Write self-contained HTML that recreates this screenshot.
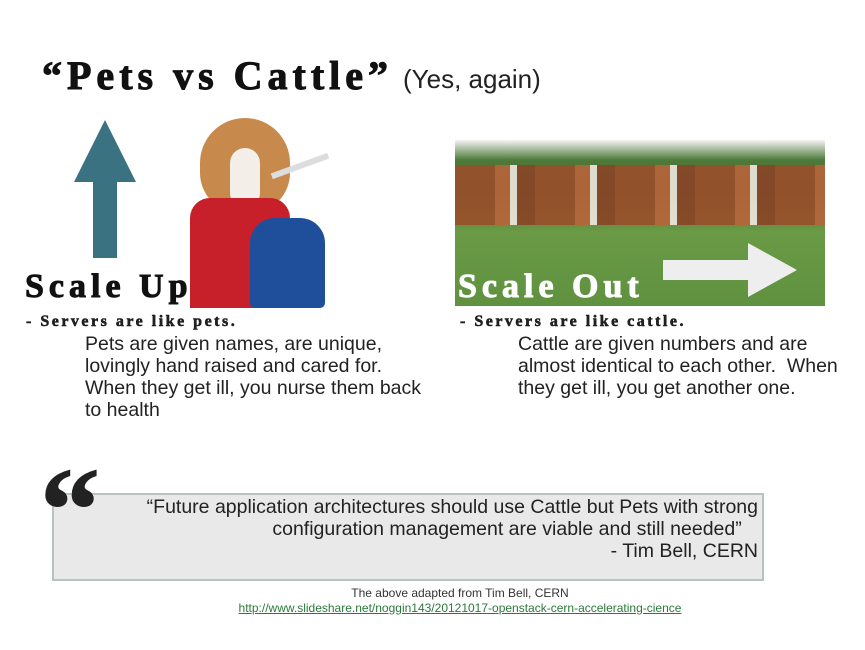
<!DOCTYPE html>
<html><head><meta charset="utf-8">
<style>
body{margin:0;width:865px;height:650px;background:#fff;position:relative;overflow:hidden;font-family:"Liberation Sans",sans-serif;color:#222}
.a{position:absolute}
.serif{font-family:"Liberation Serif",serif;font-weight:bold;-webkit-text-stroke:1px currentColor}
.body{font-size:19.5px;line-height:22px;color:#222}
</style></head><body>
<div class="a serif" style="left:42px;top:52px;font-size:40px;letter-spacing:5px;color:#111">“Pets vs Cattle”</div>
<div class="a" style="left:403px;top:64px;font-size:26px">(Yes, again)</div>

<svg class="a" style="left:70px;top:120px" width="70" height="140">
<polygon points="35,0 66,62 47,62 47,138 23,138 23,62 4,62" fill="#3b7282"/></svg>

<div class="a" style="left:180px;top:118px;width:150px;height:190px">
 <div class="a" style="left:20px;top:0;width:90px;height:95px;background:#c88a4c;border-radius:45px 45px 40px 40px"></div>
 <div class="a" style="left:50px;top:30px;width:30px;height:60px;background:#f3efe8;border-radius:15px"></div>
 <div class="a" style="left:10px;top:80px;width:100px;height:110px;background:#c8202a;border-radius:20px 20px 0 0"></div>
 <div class="a" style="left:70px;top:100px;width:75px;height:90px;background:#1f4f9a;border-radius:25px 25px 5px 5px"></div>
 <div class="a" style="left:90px;top:45px;width:60px;height:6px;background:#ddd;transform:rotate(-20deg)"></div>
</div>

<div class="a" style="left:455px;top:140px;width:370px;height:166px;background:linear-gradient(#f4f4f4 0%,#4e7a3a 12%,#3f6a2e 30%,#6a9a45 55%,#5f9140 100%)">
 <div class="a" style="left:0;top:25px;width:370px;height:60px;background:repeating-linear-gradient(90deg,#9a4e2a 0 40px,#b8643a 40px 55px,#f0e8e0 55px 62px,#8a4426 62px 80px);opacity:.9"></div>
 <svg class="a" style="left:208px;top:103px" width="135" height="55"><polygon points="0,17 85,17 85,0 134,27 85,54 85,37 0,37" fill="#eeeeee"/></svg>
 <div class="a serif" style="left:3px;top:128px;font-size:34px;letter-spacing:5px;color:#fff">Scale Out</div>
</div>

<div class="a serif" style="left:25px;top:268px;font-size:34px;letter-spacing:5px;color:#111">Scale Up</div>

<div class="a serif" style="left:26px;top:313px;font-size:16px;letter-spacing:2.5px;-webkit-text-stroke:0.5px #111">- Servers are like pets.</div>
<div class="a body" style="left:85px;top:333px">Pets are given names, are unique,<br>lovingly hand raised and cared for.<br>When they get ill, you nurse them back<br>to health</div>

<div class="a serif" style="left:460px;top:313px;font-size:16px;letter-spacing:2.5px;-webkit-text-stroke:0.5px #111">- Servers are like cattle.</div>
<div class="a body" style="left:518px;top:333px">Cattle are given numbers and are<br>almost identical to each other.&nbsp; When<br>they get ill, you get another one.</div>

<div class="a" style="left:52px;top:493px;width:708px;height:84px;background:#e9e9e9;border:2px solid #b8c4c4"></div>
<div class="a serif" style="left:40px;top:455px;font-size:120px;line-height:110px;color:#222">“</div>
<div class="a" style="left:60px;top:496px;width:698px;text-align:right;font-size:19.5px;line-height:22px">“Future application architectures should use Cattle but Pets with strong<br>configuration management are viable and still needed”&nbsp;&nbsp;&nbsp;<br>- Tim Bell, CERN</div>

<div class="a" style="left:230px;top:586px;width:460px;text-align:center;font-size:12px;color:#333">The above adapted from Tim Bell, CERN</div>
<div class="a" style="left:160px;top:601px;width:600px;text-align:center;font-size:12px;color:#2a7a3a;text-decoration:underline">http://www.slideshare.net/noggin143/20121017-openstack-cern-accelerating-cience</div>
</body></html>
